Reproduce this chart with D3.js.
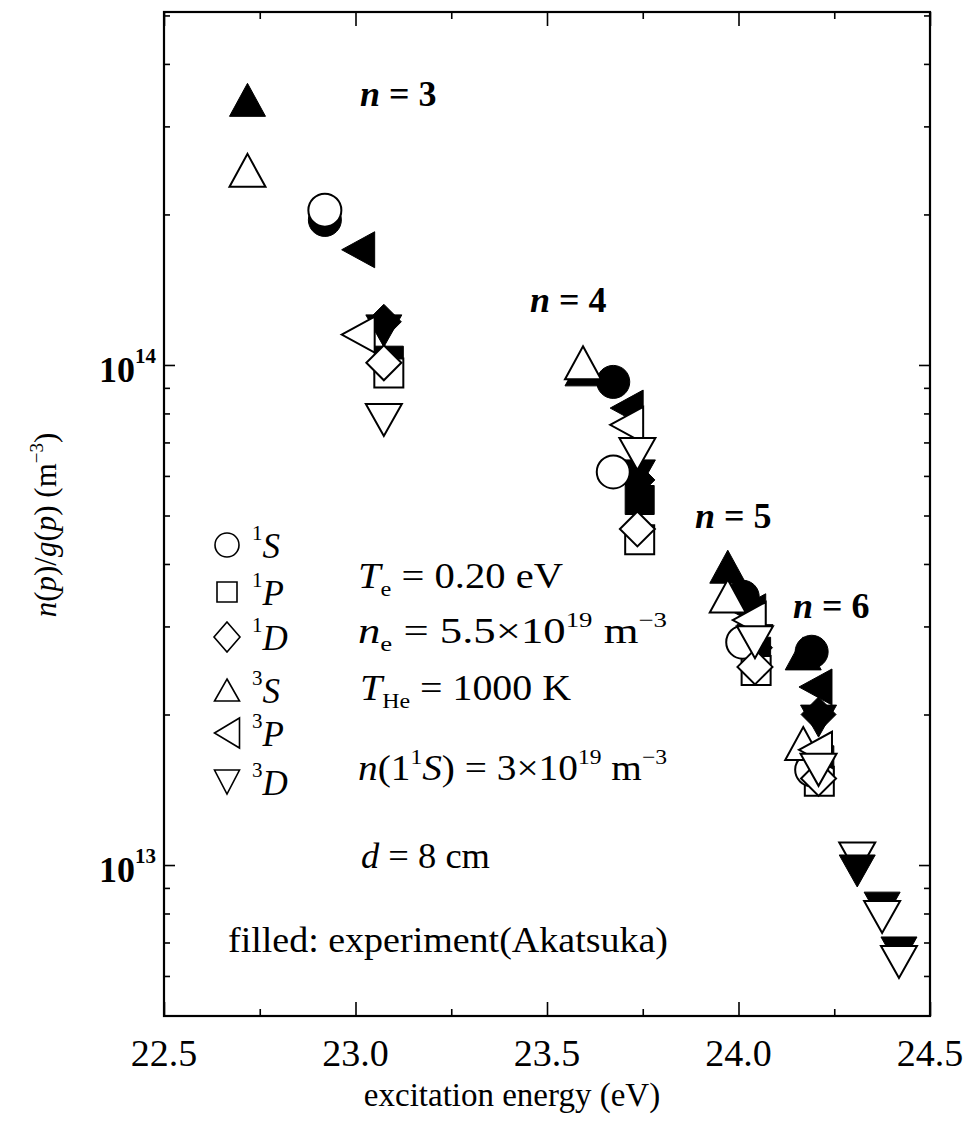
<!DOCTYPE html>
<html><head><meta charset="utf-8">
<script src="https://cdn.jsdelivr.net/npm/d3@7"></script>
<style>
html,body{margin:0;padding:0;background:#fff;}
svg{display:block;}
</style></head><body>
<svg id="chart" width="967" height="1121" font-family="'Liberation Serif', 'Times New Roman', Times, 'DejaVu Serif', serif"></svg>
<script>
// ---------- data ----------
const xTickValues = [22.5, 23.0, 23.5, 24.0, 24.5];
const xTickLabels = ["22.5", "23.0", "23.5", "24.0", "24.5"];
const xMinorTicks = [22.75, 23.25, 23.75, 24.25];
const yTickValues = [1e13, 1e14];
const yTickExponents = ["13", "14"];
const yMinorTicks = [5e12, 6e12, 7e12, 8e12, 9e12, 2e13, 3e13, 4e13, 5e13, 6e13, 7e13, 8e13, 9e13, 2e14, 3e14, 4e14, 5e14];

const levelN = [3, 4, 5, 6];
const levelN3D = [3, 4, 5, 6, 7, 8, 9];

// excitation energies (eV)
const energy1S = [22.920, 23.673, 24.011, 24.191];
const energy1P = [23.087, 23.742, 24.046, 24.211];
const energy1D = [23.074, 23.736, 24.043, 24.209];
const energy3S = [22.718, 23.594, 23.972, 24.169];
const energy3P = [23.007, 23.708, 24.028, 24.201];
const energy3D = [23.074, 23.736, 24.043, 24.209, 24.310, 24.375, 24.419];

// calculated (open symbols), m^-3
const calc1S = [2.04e14, 6.11e13, 2.79e13, 1.55e13];
const calc1P = [9.64e13, 4.47e13, 2.45e13, 1.47e13];
const calc1D = [1.01e14, 4.70e13, 2.49e13, 1.49e13];
const calc3S = [2.45e14, 1.01e14, 3.45e13, 1.75e13];
const calc3P = [1.15e14, 7.59e13, 3.09e13, 1.70e13];
const calc3D = [7.76e13, 6.64e13, 2.79e13, 1.55e13, 1.03e13, 7.87e12, 6.40e12];

// experiment (filled symbols), m^-3
const exp1S = [1.95e14, 9.25e13, 3.44e13, 2.67e13];
const exp1P = [1.02e14, 5.37e13, 2.67e13, 1.62e13];
const exp1D = [1.22e14, 5.89e13, 2.72e13, 2.00e13];
const exp3S = [3.39e14, 9.80e13, 3.95e13, 2.65e13];
const exp3P = [1.70e14, 8.20e13, 3.21e13, 2.27e13];
const exp3D = [1.17e14, 6.00e13, 2.81e13, 1.94e13, 9.73e12, 8.20e12, 6.67e12];

const legendTerms = ["1S", "1P", "1D", "3S", "3P", "3D"];
const shellLabels = ["3", "4", "5", "6"];

// ---------- setup ----------
const svg = d3.select("#chart");
const L = 164, R = 930, T = 12, B = 1016;
const x = d3.scaleLinear().domain([22.5, 24.5]).range([L, R]);
const y = d3.scaleLog().domain([4.99e12, 5.08e14]).range([B, T]);

const series = [
  {shape: "square",  levels: levelN,   energy: energy1P, calc: calc1P, exp: exp1P},
  {shape: "circle",  levels: levelN,   energy: energy1S, calc: calc1S, exp: exp1S},
  {shape: "up",      levels: levelN,   energy: energy3S, calc: calc3S, exp: exp3S},
  {shape: "left",    levels: levelN,   energy: energy3P, calc: calc3P, exp: exp3P},
  {shape: "diamond", levels: levelN,   energy: energy1D, calc: calc1D, exp: exp1D},
  {shape: "down",    levels: levelN3D, energy: energy3D, calc: calc3D, exp: exp3D}
];
const plotSize = {circle: [33, 33], square: [29, 29], diamond: [35, 35], up: [36, 33], down: [36, 32], left: [33, 36]};
const legendSize = {circle: [24, 24], square: [20, 20], diamond: [26, 30], up: [25, 22], left: [25, 30], down: [25, 24]};
const legendShape = {"1S": "circle", "1P": "square", "1D": "diamond", "3S": "up", "3P": "left", "3D": "down"};

function shapePath(kind, w, h) {
  const p = d3.path();
  if (kind === "circle") { p.moveTo(w / 2, 0); p.arc(0, 0, w / 2, 0, 2 * Math.PI); }
  else if (kind === "square") { p.rect(-w / 2, -h / 2, w, h); }
  else if (kind === "diamond") { p.moveTo(0, -h / 2); p.lineTo(w / 2, 0); p.lineTo(0, h / 2); p.lineTo(-w / 2, 0); p.closePath(); }
  else if (kind === "up") { p.moveTo(0, -h / 2); p.lineTo(w / 2, h / 2); p.lineTo(-w / 2, h / 2); p.closePath(); }
  else if (kind === "down") { p.moveTo(-w / 2, -h / 2); p.lineTo(w / 2, -h / 2); p.lineTo(0, h / 2); p.closePath(); }
  else if (kind === "left") { p.moveTo(-w / 2, 0); p.lineTo(w / 2, -h / 2); p.lineTo(w / 2, h / 2); p.closePath(); }
  return p.toString();
}

// ---------- axes (inward ticks on all sides) ----------
function styleAxis(g) {
  g.select(".domain").remove();
  g.selectAll(".tick line").attr("stroke", "#000").attr("stroke-width", 1.6);
  g.selectAll("text").remove();
}
svg.append("g").attr("transform", `translate(0,${B})`).call(d3.axisBottom(x).tickValues(xTickValues).tickSize(-14)).call(styleAxis);
svg.append("g").attr("transform", `translate(0,${B})`).call(d3.axisBottom(x).tickValues(xMinorTicks).tickSize(-7)).call(styleAxis);
svg.append("g").attr("transform", `translate(0,${T})`).call(d3.axisTop(x).tickValues(xTickValues).tickSize(-14)).call(styleAxis);
svg.append("g").attr("transform", `translate(0,${T})`).call(d3.axisTop(x).tickValues(xMinorTicks).tickSize(-7)).call(styleAxis);
svg.append("g").attr("transform", `translate(${L},0)`).call(d3.axisLeft(y).tickValues(yTickValues).tickSize(-11)).call(styleAxis);
svg.append("g").attr("transform", `translate(${L},0)`).call(d3.axisLeft(y).tickValues(yMinorTicks).tickSize(-6)).call(styleAxis);
svg.append("g").attr("transform", `translate(${R},0)`).call(d3.axisRight(y).tickValues(yTickValues).tickSize(-11)).call(styleAxis);
svg.append("g").attr("transform", `translate(${R},0)`).call(d3.axisRight(y).tickValues(yMinorTicks).tickSize(-6)).call(styleAxis);

svg.append("rect").attr("x", L).attr("y", T).attr("width", R - L).attr("height", B - T)
  .attr("fill", "none").attr("stroke", "#000").attr("stroke-width", 2.2);

// x tick labels
svg.append("g").selectAll("text").data(xTickValues).join("text")
  .attr("x", d => x(d)).attr("y", 1066).attr("text-anchor", "middle")
  .attr("font-size", 38).text((d, i) => xTickLabels[i]);

// y tick labels
const yl = svg.append("g").selectAll("text").data(yTickValues).join("text")
  .attr("x", 99).attr("y", d => y(d) + 17).attr("font-size", 36).attr("font-weight", "bold");
yl.append("tspan").text("10");
yl.append("tspan").attr("dy", -19).attr("font-size", 21).text((d, i) => yTickExponents[i]);

// axis titles
svg.append("text").attr("x", 512).attr("y", 1106).attr("text-anchor", "middle").attr("font-size", 33)
  .text("excitation energy (eV)");
const ylab = svg.append("text").attr("transform", "translate(56,525) rotate(-90)").attr("text-anchor", "middle").attr("font-size", 31);
ylab.append("tspan").attr("font-style", "italic").text("n");
ylab.append("tspan").text("(");
ylab.append("tspan").attr("font-style", "italic").text("p");
ylab.append("tspan").text(")/");
ylab.append("tspan").attr("font-style", "italic").text("g");
ylab.append("tspan").text("(");
ylab.append("tspan").attr("font-style", "italic").text("p");
ylab.append("tspan").text(") (m");
ylab.append("tspan").attr("dy", -13).attr("font-size", 19).text("\u22123");
ylab.append("tspan").attr("dy", 13).text(")");

// ---------- markers ----------
const gExp = svg.append("g");
const gCalc = svg.append("g");
const gFront = svg.append("g");
series.forEach(s => {
  const [w, h] = plotSize[s.shape];
  const pts = s.exp.map((v, i) => ({e: s.energy[i], v: v, n: s.levels[i]}));
  gExp.selectAll(null).data(pts.filter(p => p.n !== 7)).join("path")
    .attr("d", shapePath(s.shape, w, h))
    .attr("transform", p => `translate(${x(p.e)},${y(p.v)})`)
    .attr("fill", "#000").attr("stroke", "#000").attr("stroke-width", 1);
  gFront.selectAll(null).data(pts.filter(p => p.n === 7)).join("path")
    .attr("d", shapePath(s.shape, w, h))
    .attr("transform", p => `translate(${x(p.e)},${y(p.v)})`)
    .attr("fill", "#000").attr("stroke", "#000").attr("stroke-width", 1);
});
series.forEach(s => {
  const [w, h] = plotSize[s.shape];
  gCalc.selectAll(null).data(s.calc).join("path")
    .attr("d", shapePath(s.shape, w, h))
    .attr("transform", (d, i) => `translate(${x(s.energy[i])},${y(d)})`)
    .attr("fill", "#fff").attr("stroke", "#000").attr("stroke-width", 2);
});

// ---------- shell labels ----------
const shellPos = [[360, 106], [530, 312], [695, 528], [793, 618]];
shellLabels.forEach((lab, i) => {
  const t = svg.append("text").attr("x", shellPos[i][0]).attr("y", shellPos[i][1]).attr("font-size", 36).attr("font-weight", "bold");
  t.append("tspan").attr("font-style", "italic").text("n");
  t.append("tspan").text(" = " + lab);
});

// ---------- legend ----------
const legRowY = [545, 592, 637, 690, 733, 782];
legendTerms.forEach((term, i) => {
  const shp = legendShape[term];
  const [w, h] = legendSize[shp];
  svg.append("path").attr("d", shapePath(shp, w, h)).attr("transform", `translate(227,${legRowY[i]})`)
    .attr("fill", "#fff").attr("stroke", "#000").attr("stroke-width", 1.6);
  const t = svg.append("text").attr("x", 252).attr("y", legRowY[i] + 13).attr("font-size", 35);
  t.append("tspan").attr("dy", -18).attr("font-size", 21).text(term[0]);
  t.append("tspan").attr("dy", 18).attr("font-style", "italic").text(term[1]);
});

// ---------- annotations ----------
function stretched(xp, yp, len) {
  return svg.append("text").attr("x", xp).attr("y", yp).attr("font-size", 35)
    .attr("textLength", len).attr("lengthAdjust", "spacingAndGlyphs");
}
let t;
t = stretched(358, 588, 205);
t.append("tspan").attr("font-style", "italic").text("T");
t.append("tspan").attr("dy", 8).attr("font-size", 21).text("e");
t.append("tspan").attr("dy", -8).text(" = 0.20 eV");

t = stretched(358, 643, 309);
t.append("tspan").attr("font-style", "italic").text("n");
t.append("tspan").attr("dy", 8).attr("font-size", 21).text("e");
t.append("tspan").attr("dy", -8).text(" = 5.5\u00d710");
t.append("tspan").attr("dy", -16).attr("font-size", 21).text("19");
t.append("tspan").attr("dy", 16).text(" m");
t.append("tspan").attr("dy", -16).attr("font-size", 21).text("\u22123");

t = stretched(360, 700, 211);
t.append("tspan").attr("font-style", "italic").text("T");
t.append("tspan").attr("dy", 8).attr("font-size", 21).text("He");
t.append("tspan").attr("dy", -8).text(" = 1000 K");

t = stretched(358, 780, 309);
t.append("tspan").attr("font-style", "italic").text("n");
t.append("tspan").text("(1");
t.append("tspan").attr("dy", -16).attr("font-size", 21).text("1");
t.append("tspan").attr("dy", 16).attr("font-style", "italic").text("S");
t.append("tspan").text(") = 3\u00d710");
t.append("tspan").attr("dy", -16).attr("font-size", 21).text("19");
t.append("tspan").attr("dy", 16).text(" m");
t.append("tspan").attr("dy", -16).attr("font-size", 21).text("\u22123");

t = stretched(361, 868, 129);
t.append("tspan").attr("font-style", "italic").text("d");
t.append("tspan").text(" = 8 cm");

stretched(228, 952, 440).attr("font-size", 36).text("filled: experiment(Akatsuka)");
</script>
</body></html>
